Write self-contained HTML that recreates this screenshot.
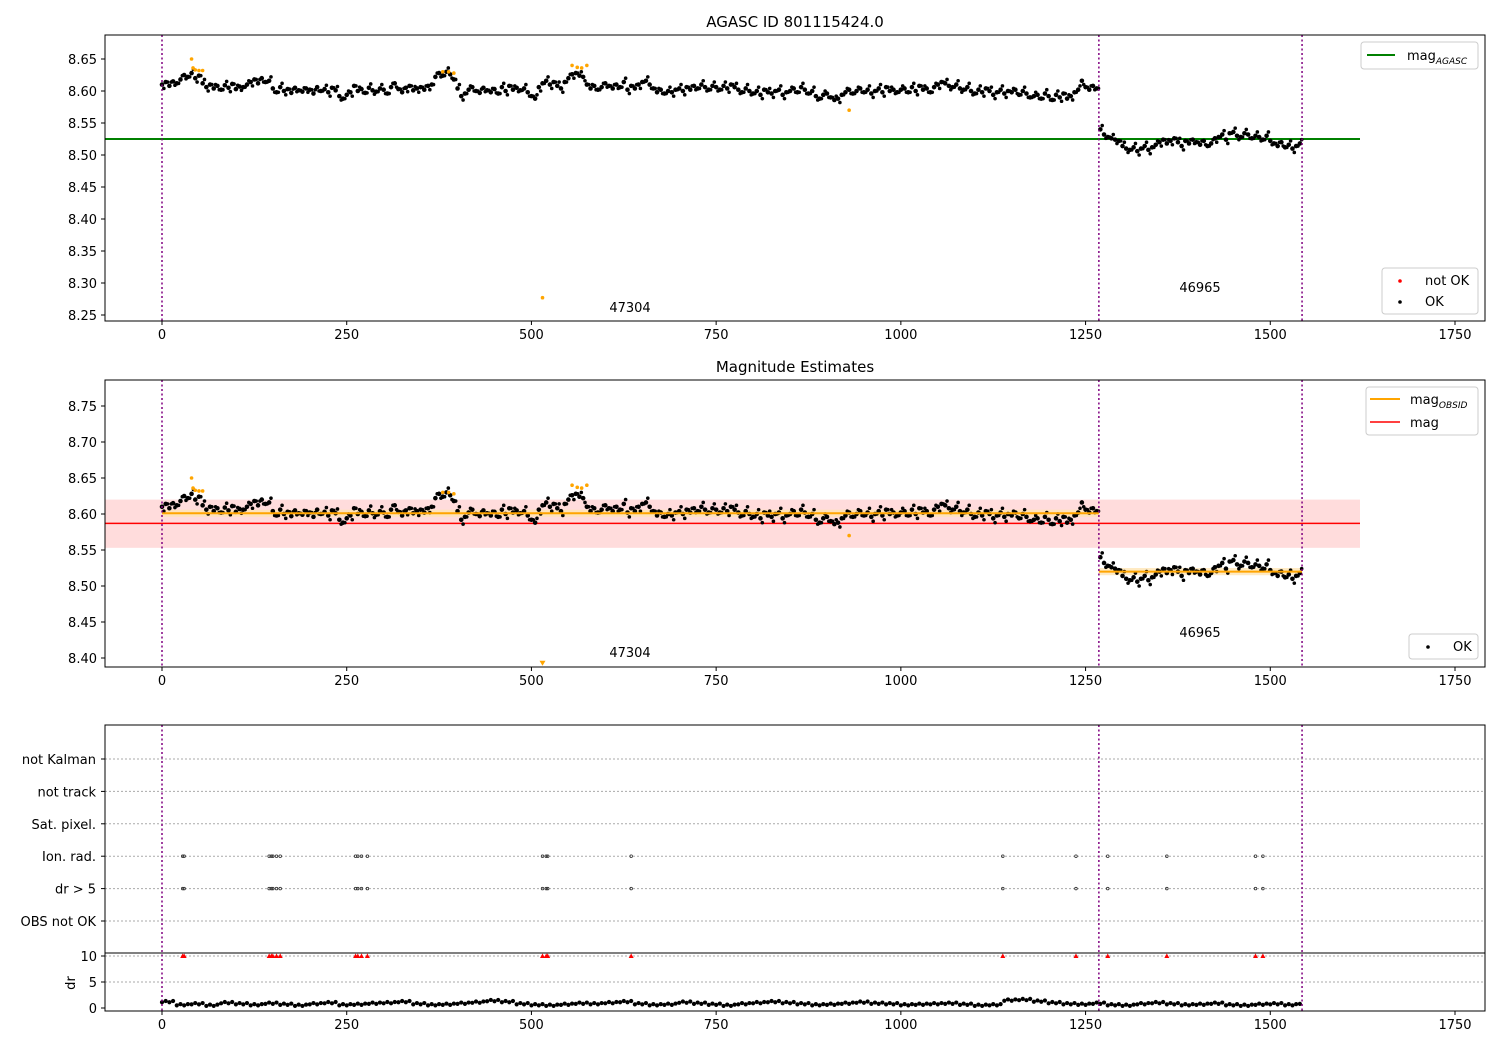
<!DOCTYPE html>
<html><head><meta charset="utf-8"><style>
body{margin:0;background:#fff;font-family:"Liberation Sans","DejaVu Sans",sans-serif;}
svg text{font-family:"DejaVu Sans","Liberation Sans",sans-serif;}
</style></head><body>
<svg id="c" width="1500" height="1050" xmlns="http://www.w3.org/2000/svg"></svg>
<script>
// ---- data ----
const magStep = 5;
const magMilli = [10,14,8,15,12,18,25,22,28,20,
24,12,6,10,4,8,2,9,5,11,
3,7,6,10,14,18,12,20,14,16,
4,-2,6,0,3,-3,5,1,-1,4,
2,-4,6,0,3,-2,5,1,-8,-12,
-6,-2,8,0,3,-3,5,1,-1,4,
2,-4,6,12,3,-2,5,8,1,4,
6,2,8,10,22,28,24,30,26,18,
4,-8,-4,2,6,0,-3,5,1,-2,
3,-4,6,0,8,2,5,1,4,-2,
-8,-12,6,12,16,10,14,8,4,14,
20,26,28,24,22,10,4,8,2,6,
12,8,4,10,6,14,2,8,4,10,
14,16,10,4,-2,2,-4,0,-2,2,
4,0,6,2,8,4,10,6,2,8,
6,2,8,4,10,6,2,-2,4,0,
-4,0,-6,2,-2,-4,0,2,-6,-2,
0,4,-2,6,2,-4,0,-8,-12,-6,
-4,-10,-14,-12,-6,-2,2,-4,0,4,
-2,2,-4,0,4,-2,6,0,2,-2,
2,4,-2,6,0,8,2,4,-2,6,
10,14,12,8,6,10,4,2,6,0,
-4,2,-2,4,0,-6,-2,2,-4,0,
-2,2,-6,0,-4,-10,-8,-6,-12,-4,
-8,-14,-6,-10,-4,-12,-8,-2,2,16,
6,2,8,4,
-60,-68,-72,-74,-76,-78,
-86,-90,-92,-88,-94,-90,-86,-92,-88,-84,
-80,-76,-82,-78,-74,-80,-86,-78,-82,-76,
-80,-84,-78,-86,-82,-74,-72,-68,-76,-66,
-64,-70,-72,-66,-68,-74,-70,-72,-76,-70,
-78,-82,-86,-80,-88,-84,-90,-86,-82];
const flagT = [40,42,45,50,55,380,388,395,555,562,568,575,930];
const flagMag = [8.650,8.636,8.633,8.632,8.632,8.630,8.630,8.628,8.640,8.637,8.636,8.640,8.570];
const outT = 515, outMag1 = 8.277, outMag2 = 8.392;
const obsBounds = [0,1268,1543];
const obsIds = ["47304","46965"];
const obsMean = [8.601,8.520];
const agascMag = 8.525;
const magMean = 8.587, magLo = 8.553, magHi = 8.620;
const eventT = [28,30,145,148,150,155,160,262,265,270,278,515,520,522,635,1138,1237,1280,1360,1480,1490];
const drStep = 20;
const drVals = [1.2,0.6,0.8,0.5,1.0,0.8,0.6,0.9,0.7,0.5,0.8,1.0,0.6,0.7,0.9,1.0,1.2,0.8,0.6,0.7,
0.9,1.1,1.4,1.2,0.8,0.6,0.5,0.7,0.9,0.8,1.0,1.2,0.8,0.6,0.7,1.1,0.9,0.7,0.5,0.8,
1.0,1.2,1.0,0.8,0.6,0.7,0.9,1.1,0.9,0.8,0.6,0.7,0.8,0.9,0.7,0.5,0.6,1.5,1.6,1.3,
1.0,0.8,0.7,0.9,0.6,0.5,0.8,1.0,0.8,0.6,0.7,0.9,0.6,0.5,0.7,0.8,0.6,0.9];
const xTicks = [0,250,500,750,1000,1250,1500,1750];
const y1Ticks = [8.25,8.30,8.35,8.40,8.45,8.50,8.55,8.60,8.65];
const y2Ticks = [8.40,8.45,8.50,8.55,8.60,8.65,8.70,8.75];
const cats = ["not Kalman","not track","Sat. pixel.","Ion. rad.","dr > 5","OBS not OK"];
const drTicks = [0,5,10];

// ---- helpers ----
const S = document.getElementById('c'), NS = "http://www.w3.org/2000/svg";
function mk(tag, at, parent){const e=document.createElementNS(NS,tag);for(const k in at)e.setAttribute(k,at[k]);(parent||S).appendChild(e);return e;}
const L=105,R=1485;
const X = t => 162 + t*(1455-162)/1750;
const Y1 = v => 59 + (8.65-v)*640;
const Y2 = v => 406 + (8.75-v)*720;
const YC = i => 759 + i*32.4;
const YD = v => 1008 - v*5.2;
const magT = i => i*magStep;
function txt(x,y,s,anchor,size,name){const e=mk('text',{x:x,y:y,'text-anchor':anchor||'middle','font-size':size||13,fill:'#000'});e.textContent=s;return e;}

function frame(top,bot,name){
  const r=mk('rect',{x:L,y:top,width:R-L,height:bot-top,fill:'none',stroke:'#000','stroke-width':1});
  
}
function xAxis(bot,name){
  const g=mk('g',{});
  xTicks.forEach(t=>{mk('line',{x1:X(t),x2:X(t),y1:bot,y2:bot+4,stroke:'#000'},g);
    const e=mk('text',{x:X(t),y:bot+18,'text-anchor':'middle','font-size':13},g);e.textContent=t;});
}
function vlines(top,bot){
  obsBounds.forEach(t=>{const l=mk('line',{x1:X(t),x2:X(t),y1:top,y2:bot,stroke:'#800080','stroke-width':1.5,'stroke-dasharray':'2,2.5'});
    });
}
function yAxis(ticks,Yf,fmt,name){
  const g=mk('g',{});
  ticks.forEach(v=>{mk('line',{x1:L-4,x2:L,y1:Yf(v),y2:Yf(v),stroke:'#000'},g);
    const e=mk('text',{x:L-8,y:Yf(v)+5,'text-anchor':'end','font-size':13},g);e.textContent=fmt(v);});
}
function dots(Yf,top,bot,name){
  const g=mk('g',{});
  magMilli.forEach((m,i)=>{const y=Yf(8.6+m/1000);if(y>top&&y<bot)mk('circle',{cx:X(magT(i)),cy:y,r:2.3,fill:'#000'},g);
    const y2=Yf(8.6+m/1000+((i%3)-1)*0.006);if(y2>top&&y2<bot)mk('circle',{cx:X(magT(i)+2.5),cy:y2,r:1.8,fill:'#000'},g);});
  const f=mk('g',{});
  flagT.forEach((t,i)=>mk('circle',{cx:X(t),cy:Yf(flagMag[i]),r:1.8,fill:'#ffa500'},f));
}

// ---- titles ----
txt(795,27,"AGASC ID 801115424.0","middle",15,"main-title");
txt(795,372,"Magnitude Estimates","middle",15,"panel2-title");

// ---- panel 1 ----
const gl=mk('line',{x1:L,x2:1360,y1:Y1(agascMag),y2:Y1(agascMag),stroke:'#008000','stroke-width':2});

dots(Y1,35,321,'panel1-points');
mk('circle',{cx:X(outT),cy:Y1(outMag1),r:1.8,fill:'#ffa500'});
vlines(35,321);
txt(630,312,obsIds[0],"middle",13,"obsid-label");txt(1200,292,obsIds[1],"middle",13,"obsid-label");
frame(35,321,'panel1-axes');
yAxis(y1Ticks,Y1,v=>v.toFixed(2),'panel1-y-axis');xAxis(321,'panel1-x-axis');
let lg=mk('g',{});
mk('rect',{x:1361,y:42,width:117,height:27,rx:3,fill:'#fff',stroke:'#ccc'},lg);
mk('line',{x1:1367,x2:1395,y1:55,y2:55,stroke:'#008000','stroke-width':2},lg);
let t=mk('text',{x:1407,y:60,'font-size':13},lg);t.innerHTML='mag<tspan font-size="9" dy="4" font-style="italic">AGASC</tspan>';
lg=mk('g',{});
mk('rect',{x:1382,y:268,width:96,height:46,rx:3,fill:'#fff',stroke:'#ccc'},lg);
mk('circle',{cx:1400,cy:281,r:1.8,fill:'red'},lg);mk('circle',{cx:1400,cy:302,r:1.8,fill:'#000'},lg);
t=mk('text',{x:1425,y:285,'font-size':13},lg);t.textContent='not OK';
t=mk('text',{x:1425,y:306,'font-size':13},lg);t.textContent='OK';

// ---- panel 2 ----
const band=mk('rect',{x:L,y:Y2(magHi),width:1360-L,height:Y2(magLo)-Y2(magHi),fill:'#ffdcdc'});

const rl=mk('line',{x1:L,x2:1360,y1:Y2(magMean),y2:Y2(magMean),stroke:'red','stroke-width':1.5});

obsMean.forEach((m,i)=>{mk('rect',{x:X(obsBounds[i]),y:Y2(m+0.005),width:X(obsBounds[i+1])-X(obsBounds[i]),height:Y2(m-0.005)-Y2(m+0.005),fill:'#ffe5b4',opacity:0.8});});
dots(Y2,380,667,'panel2-points');
obsMean.forEach((m,i)=>{const l=mk('line',{x1:X(obsBounds[i]),x2:X(obsBounds[i+1]),y1:Y2(m),y2:Y2(m),stroke:'#ffa500','stroke-width':2});
  });
mk('path',{d:`M${X(outT)-3},${Y2(outMag2)-3} h6 l-3,5 z`,fill:'#ffa500'});
vlines(380,667);
txt(630,657,obsIds[0],"middle",13,"obsid-label");txt(1200,637,obsIds[1],"middle",13,"obsid-label");
frame(380,667,'panel2-axes');
yAxis(y2Ticks,Y2,v=>v.toFixed(2),'panel2-y-axis');xAxis(667,'panel2-x-axis');
lg=mk('g',{});
mk('rect',{x:1366,y:387,width:112,height:48,rx:3,fill:'#fff',stroke:'#ccc'},lg);
mk('line',{x1:1370,x2:1400,y1:399,y2:399,stroke:'#ffa500','stroke-width':2},lg);
mk('line',{x1:1370,x2:1400,y1:422,y2:422,stroke:'red','stroke-width':1.5},lg);
t=mk('text',{x:1410,y:404,'font-size':13},lg);t.innerHTML='mag<tspan font-size="9" dy="4" font-style="italic">OBSID</tspan>';
t=mk('text',{x:1410,y:427,'font-size':13},lg);t.textContent='mag';
lg=mk('g',{});
mk('rect',{x:1409,y:634,width:69,height:25,rx:3,fill:'#fff',stroke:'#ccc'},lg);
mk('circle',{cx:1428,cy:647,r:1.8,fill:'#000'},lg);
t=mk('text',{x:1453,y:651,'font-size':13},lg);t.textContent='OK';

// ---- panel 3 ----
const cg=mk('g',{});
cats.forEach((c,i)=>{mk('line',{x1:L,x2:R,y1:YC(i),y2:YC(i),stroke:'#aaa','stroke-dasharray':'2,2'},cg);
  mk('line',{x1:L-4,x2:L,y1:YC(i),y2:YC(i),stroke:'#000'},cg);
  const e=mk('text',{x:L-9,y:YC(i)+5,'text-anchor':'end','font-size':13},cg);e.textContent=c;});
[5,10].forEach(v=>mk('line',{x1:L,x2:R,y1:YD(v),y2:YD(v),stroke:'#aaa','stroke-dasharray':'2,2'}));
const eg=mk('g',{});
eventT.forEach(tt=>{[3,4].forEach(ci=>mk('circle',{cx:X(tt),cy:YC(ci),r:1.3,fill:'none',stroke:'#333','stroke-width':0.8},eg));
  mk('path',{d:`M${X(tt)-2.5},${YD(10)+2} h5 l-2.5,-4.5 z`,fill:'red'},eg);});
const dg=mk('g',{});
drVals.forEach((v,i)=>{for(let k=0;k<4;k++){const tt=i*drStep+k*5;if(tt<=1543)mk('circle',{cx:X(tt),cy:YD(v+((k%2)?0.15:-0.1)),r:2.1,fill:'#000'},dg);}});
vlines(725,1011);
frame(725,1011,'panel3-axes');
mk('line',{x1:L,x2:R,y1:953,y2:953,stroke:'#000'});
yAxis(drTicks,YD,v=>v,'dr-y-axis');
const dl=txt(70,983,"dr","middle",13,"dr-axis-title");dl.setAttribute('transform','rotate(-90 70 983)');dl.setAttribute('y',988);
xAxis(1011,'panel3-x-axis');
</script>
</body></html>
